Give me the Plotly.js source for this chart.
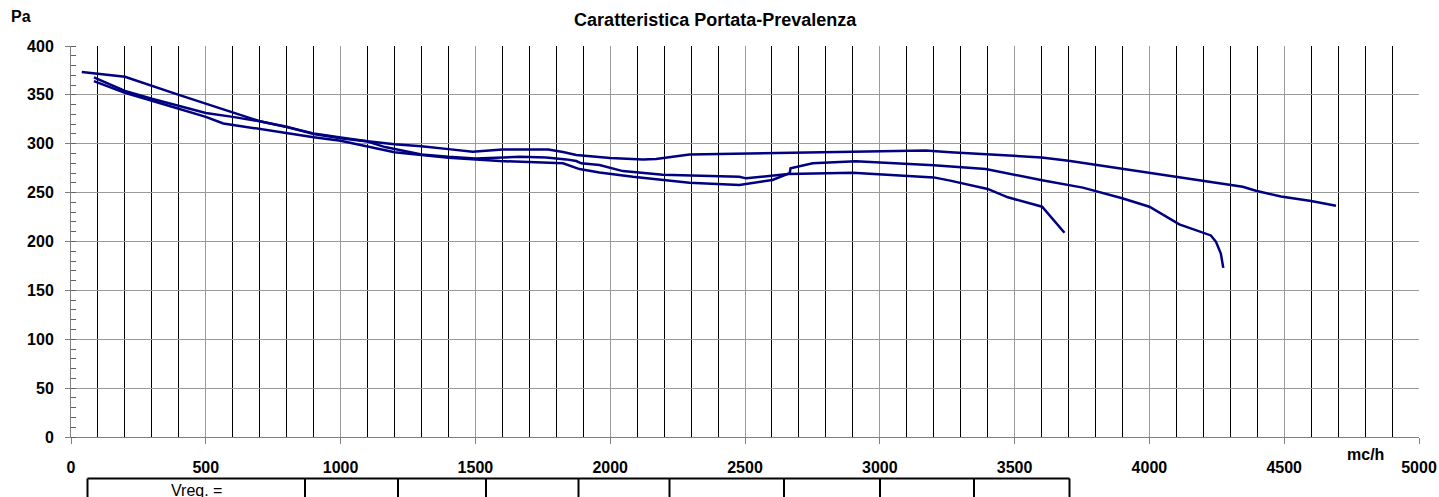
<!DOCTYPE html>
<html>
<head>
<meta charset="utf-8">
<script src="https://cdn.plot.ly/plotly-3.0.1.min.js"></script>
<style>html,body{margin:0;padding:0;background:#fff;}#chart{width:1439px;height:497px;}</style>
</head>
<body>
<div id="chart"></div>
<script>
// ---- Data ----
const curveA_x = [40, 200, 400, 500, 600, 700, 800, 900, 1000, 1100, 1200, 1300, 1400, 1490, 1600, 1770, 1825, 1874, 2000, 2121, 2170, 2294, 2900, 3170, 3261, 3400, 3600, 3700, 3800, 3900, 4000, 4100, 4200, 4346, 4395, 4488, 4600, 4692];
const curveA_y = [373.5, 368.5, 350, 341, 331.5, 323, 317, 310.5, 306.5, 302.5, 299.5, 297.5, 294.5, 291.8, 294, 294, 291.5, 288.4, 285.3, 283.8, 284.3, 289, 291.8, 293.2, 291.4, 289.4, 286, 282.5, 278.4, 274, 270, 265.4, 261.6, 256, 252, 246, 241.5, 236.6];

const curveB_x = [85, 200, 300, 400, 500, 565, 700, 900, 1000, 1100, 1200, 1400, 1500, 1590, 1825, 1886, 1960, 2084, 2294, 2479, 2602, 2648, 2666, 2669, 2751, 2911, 3200, 3393, 3500, 3602, 3753, 3899, 4000, 4111, 4228, 4247, 4265, 4274];
const curveB_y = [364, 352, 344, 336, 327.5, 320.8, 315, 306.7, 303, 297, 291.3, 285.6, 284, 282.3, 280, 274.1, 270.7, 266.3, 260.2, 257.8, 262.9, 268.5, 270, 275, 280, 282, 278, 274.1, 268.2, 262.7, 255.1, 244.2, 235.6, 217.5, 206.2, 199.7, 187.7, 173];

const curveC_x = [85, 200, 300, 400, 500, 600, 700, 800, 900, 1000, 1100, 1165, 1300, 1400, 1500, 1665, 1763, 1837, 1874, 1893, 1960, 2047, 2195, 2479, 2504, 2660, 2899, 3200, 3261, 3400, 3475, 3602, 3685];
const curveC_y = [368, 354, 346, 339, 331.5, 327.5, 323, 317.4, 310, 305.7, 302.3, 296.6, 289, 286.6, 285, 286.6, 286, 284, 282.3, 280, 278.2, 272, 268.4, 266.3, 264.6, 269, 270.4, 265.6, 262.3, 253.8, 245.2, 235.6, 208.9];

const titleText = 'Caratteristica Portata-Prevalenza';
const yUnit = 'Pa';
const xUnit = 'mc/h';
const tableLabel = 'Vreq. =';

// ---- Layout helpers (pixel -> paper) ----
const W = 1439, H = 497;
const M = {l: 71, r: 20, t: 46, b: 60};
const PW = W - M.l - M.r, PH = H - M.t - M.b;
const px = v => (v - M.l) / PW;
const py = v => (H - M.b - v) / PH;

const lineStyle = {color: '#000080', width: 2.5};
const traces = [
  {x: curveA_x, y: curveA_y, mode: 'lines', line: lineStyle, hoverinfo: 'skip'},
  {x: curveB_x, y: curveB_y, mode: 'lines', line: lineStyle, hoverinfo: 'skip'},
  {x: curveC_x, y: curveC_y, mode: 'lines', line: lineStyle, hoverinfo: 'skip'}
];

// table under the chart
const tableTop = 478.5;
const colEdges = [87.5, 305, 398, 486, 578.5, 669.5, 784, 880, 974, 1069.5];
const shapes = [{type: 'line', xref: 'paper', yref: 'paper', x0: px(colEdges[0]), x1: px(colEdges[colEdges.length - 1]), y0: py(tableTop), y1: py(tableTop), line: {color: '#000', width: 2}}];
colEdges.forEach(e => shapes.push({type: 'line', xref: 'paper', yref: 'paper', x0: px(e), x1: px(e), y0: py(tableTop), y1: py(H + 5), line: {color: '#000', width: 2}}));

const FONT = 'Liberation Sans, Arial, sans-serif';
const layout = {
  width: W, height: H,
  margin: M,
  paper_bgcolor: '#fff', plot_bgcolor: '#fff',
  showlegend: false,
  title: {text: '<b>' + titleText + '</b>', font: {family: FONT, size: 18, color: '#000'}, x: 0.497, xref: 'container', xanchor: 'center', y: 1 - 20 / H, yref: 'container', yanchor: 'middle'},
  xaxis: {
    range: [0, 5000], tick0: 0, dtick: 500, fixedrange: true,
    showgrid: true, gridcolor: '#9a9a9a', gridwidth: 1,
    zeroline: false, showline: true, linecolor: '#808080', linewidth: 1,
    ticks: 'outside', ticklen: 6, tickcolor: '#808080', tickwidth: 1,
    ticklabelstandoff: 10,
    tickfont: {family: FONT, size: 16, color: '#000', weight: 'bold'},
    minor: {dtick: 100, showgrid: true, gridcolor: '#000', gridwidth: 1, ticks: ''}
  },
  yaxis: {
    range: [0, 400], tick0: 0, dtick: 50, fixedrange: true,
    showgrid: true, gridcolor: '#9a9a9a', gridwidth: 1,
    zeroline: false, showline: true, linecolor: '#808080', linewidth: 1,
    ticks: 'outside', ticklen: 5, tickcolor: '#808080', tickwidth: 1,
    ticklabelstandoff: 8,
    tickfont: {family: FONT, size: 16, color: '#000', weight: 'bold'},
    minor: {dtick: 10, ticks: 'inside', ticklen: 5, tickcolor: '#606060', showgrid: false}
  },
  shapes: shapes,
  annotations: [
    {text: '<b>' + yUnit + '</b>', xref: 'paper', yref: 'paper', x: px(9), y: py(16), xanchor: 'left', yanchor: 'middle', showarrow: false, font: {family: FONT, size: 16, color: '#000'}},
    {text: '<b>' + xUnit + '</b>', xref: 'paper', yref: 'paper', x: px(1365), y: py(454), xanchor: 'center', yanchor: 'middle', showarrow: false, font: {family: FONT, size: 16, color: '#000'}},
    {text: tableLabel, xref: 'paper', yref: 'paper', x: px(196), y: py(490), xanchor: 'center', yanchor: 'middle', showarrow: false, font: {family: FONT, size: 16, color: '#000'}}
  ]
};

Plotly.newPlot('chart', traces, layout, {staticPlot: true, displayModeBar: false});
</script>
</body>
</html>
